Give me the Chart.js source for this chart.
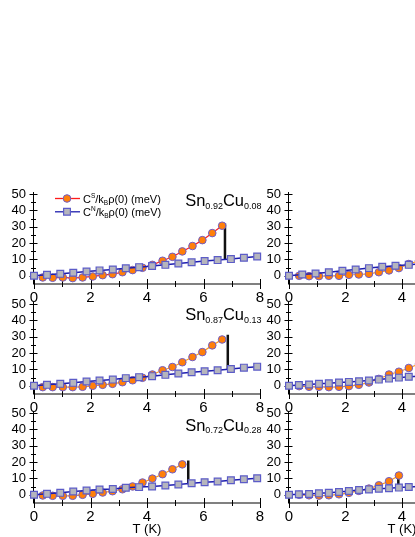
<!DOCTYPE html>
<html><head><meta charset="utf-8">
<script src="https://cdn.jsdelivr.net/npm/chart.js@4/dist/chart.umd.min.js"></script>
<style>
html,body{margin:0;padding:0;background:#fff;overflow:hidden;width:415px;height:537px;position:relative}
canvas{position:absolute}
</style></head><body>
<script>
// ---- tick labels ----
const tickX = [0, 2, 4, 6, 8];
const minorX = [1, 3, 5, 7];
const tickY = [0, 10, 20, 30, 40, 50];
const minorY = [5, 15, 25, 35, 45];

// ---- left column temperatures (K) ----
const tS_L = [0.31,0.66,1.02,1.37,1.72,2.08,2.43,2.78,3.13,3.49,3.84,4.19,4.55,4.90,5.25,5.61,5.96,6.31,6.66];
const tS_L3 = [0.31,0.66,1.02,1.37,1.72,2.08,2.43,2.78,3.13,3.49,3.84,4.19,4.55,4.90,5.25];
const tN_L = [0,0.46,0.93,1.39,1.86,2.32,2.79,3.25,3.72,4.18,4.65,5.11,5.58,6.04,6.50,6.97,7.43,7.90];

// ---- left column values (meV) ----
const cS_092 = [-1.0,-1.2,-1.0,-1.4,-1.0,-0.4,0.4,1.0,2.2,3.5,4.9,6.7,9.2,11.6,14.9,18.2,21.8,26.1,30.6];
const cN_092 = [0,0.6,1.2,1.9,2.6,3.3,3.9,4.6,5.3,6.0,6.7,7.5,8.3,9.0,9.6,10.2,11.0,11.8];
const cS_087 = [-0.8,-0.8,-0.8,-0.8,-0.6,0,0.6,1.2,2.2,3.4,4.9,6.9,9.5,11.5,14.4,17.6,20.6,24.7,28.3];
const cN_087 = [0,0.6,1.2,1.8,2.6,3.2,3.8,4.7,5.3,5.9,6.7,7.5,8.3,8.9,9.5,10.3,11.1,11.7];
const cS_072 = [-0.4,-0.6,-0.6,-0.6,0,0.6,1.4,2.2,3.4,5.1,7.5,9.9,12.6,15.6,18.6];
const cN_072 = [0,0.6,1.2,2.0,2.6,3.2,3.6,4.3,4.7,5.1,5.7,6.3,7.1,7.7,8.1,8.9,9.5,10.1];

// ---- right column ----
const tS_R = [0.36,0.71,1.06,1.41,1.77,2.12,2.47,2.83,3.18,3.54,3.89,4.24,4.60];
const tS_R3 = [0.36,0.71,1.06,1.41,1.77,2.12,2.47,2.83,3.18,3.54,3.89];
const tN_R1 = [0,0.47,0.94,1.41,1.89,2.36,2.83,3.30,3.77,4.24,4.71];
const tN_R = [0,0.35,0.71,1.06,1.41,1.77,2.12,2.48,2.83,3.18,3.54,3.89,4.24,4.60];
const cS_R1 = [0,-0.2,-0.2,0,0,0.6,0.8,1.2,2.2,3.3,4.7,7.2,9.2];
const cN_R1 = [0,0.8,1.4,2.2,3.1,3.9,4.7,5.5,6.1,6.7,7.4];
const cS_R2 = [-0.2,-0.6,-0.6,-0.8,-0.6,-0.2,0.6,2.0,4.2,6.9,8.6,10.9,13.3];
const cN_R2 = [0,0.5,0.8,1.2,1.5,2.0,2.4,2.8,3.2,3.8,4.4,5.0,5.5,5.9];
const cS_R3 = [0,-0.3,-0.5,-0.3,0.3,1.2,2.4,3.8,5.8,8.3,11.8];
const cN_R3 = [0,0.3,0.5,0.9,1.2,1.7,2.3,2.9,3.3,3.7,4.0,4.4,4.8,5.1];

// ---- jump (vertical bar) at Tc: [T, top, bottom] ----
const jump_092 = [6.76, 32.0, 10.3];
const jump_087 = [6.86, 31.2, 10.3];
const jump_072 = [5.46, 21.0, 6.5];
const jump_R3 = [3.87, 12.1, 4.2];

// ---- labels ----
const compositions = [
  [["Sn",""],["0.92","sub"],["Cu",""],["0.08","sub"]],
  [["Sn",""],["0.87","sub"],["Cu",""],["0.13","sub"]],
  [["Sn",""],["0.72","sub"],["Cu",""],["0.28","sub"]]
];
const legendS = [["C",""],["S","sup"],["/k",""],["B","sub"],["\u03C1(0) (meV)",""]];
const legendN = [["C",""],["N","sup"],["/k",""],["B","sub"],["\u03C1(0) (meV)",""]];
const xTitle = "T (K)";

const FAM = "'Liberation Sans', Arial, Helvetica, sans-serif";
Chart.defaults.font.family = FAM;
Chart.defaults.color = '#000';

const ORANGE = '#ff7f0a', CIRC_BORDER = '#6e5cc8';
const SQ_FILL = '#b5b5bd', SQ_BORDER = '#5c5cc8', BLUE_LINE = '#1e1eae';

function drawRich(ctx, x, y, segs, base, small, supDy, subDy) {
  for (const [t, k] of segs) {
    const size = k ? small : base;
    ctx.font = size + 'px ' + FAM;
    const dy = k === 'sup' ? supDy : (k === 'sub' ? subDy : 0);
    ctx.fillText(t, x, y + dy);
    x += ctx.measureText(t).width;
  }
  return x;
}
function richWidth(ctx, segs, base, small) {
  let w = 0;
  for (const [t, k] of segs) { ctx.font = (k ? small : base) + 'px ' + FAM; w += ctx.measureText(t).width; }
  return w;
}

const decorPlugin = {
  id: 'decor',
  beforeDatasetsDraw(chart) {
    const ctx = chart.ctx, a = chart.chartArea;
    const xs = chart.scales.x, ys = chart.scales.y;
    ctx.save();
    ctx.strokeStyle = '#000'; ctx.lineWidth = 1;
    ctx.beginPath();
    const ax = Math.round(a.left) - 0.5;
    ctx.moveTo(ax, a.top); ctx.lineTo(ax, a.bottom);
    tickY.forEach(v => { const p = Math.round(ys.getPixelForValue(v)) + 0.5; ctx.moveTo(ax - 4, p); ctx.lineTo(ax + 4, p); });
    minorY.forEach(v => { const p = Math.round(ys.getPixelForValue(v)) + 0.5; ctx.moveTo(ax - 2.5, p); ctx.lineTo(ax + 2.5, p); });
    const ay = a.bottom;
    tickX.forEach(v => { const p = Math.round(xs.getPixelForValue(v)) + 0.5; ctx.moveTo(p, ay - 5); ctx.lineTo(p, ay + 5); });
    minorX.forEach(v => { const p = Math.round(xs.getPixelForValue(v)) + 0.5; ctx.moveTo(p, ay - 3); ctx.lineTo(p, ay + 3); });
    ctx.stroke();
    ctx.restore();
  },
  afterDraw(chart) {
    const o = chart.options.plugins.decor || {};
    const ctx = chart.ctx, a = chart.chartArea;
    ctx.save();
    ctx.fillStyle = '#000';
    ctx.textBaseline = 'alphabetic';
    if (o.comp) {
      const w = richWidth(ctx, o.comp, 16.5, 9);
      drawRich(ctx, a.right + 1.5 - w, a.top + o.compDy, o.comp, 16.5, 9, 0, 2.5);
    }
    if (o.legend) {
      const ds = chart.data.datasets;
      const entries = [[ds[1], legendS, 6.5], [ds[0], legendN, 19.8]];
      for (const [d, segs, dy] of entries) {
        const y = a.top + dy, x0 = a.left + 21, x1 = a.left + 46, xm = a.left + 33;
        ctx.strokeStyle = d.borderColor; ctx.lineWidth = 1.3;
        ctx.beginPath(); ctx.moveTo(x0, y); ctx.lineTo(x1, y); ctx.stroke();
        ctx.fillStyle = d.pointBackgroundColor; ctx.strokeStyle = d.pointBorderColor; ctx.lineWidth = d.pointBorderWidth;
        ctx.beginPath();
        if (d.pointStyle === 'rect') { const s = d.pointRadius * Math.SQRT1_2; ctx.rect(xm - s, y - s, 2 * s, 2 * s); }
        else ctx.arc(xm, y, d.pointRadius, 0, Math.PI * 2);
        ctx.fill(); ctx.stroke();
        ctx.fillStyle = '#000';
        drawRich(ctx, a.left + 49, y + 4, segs, 11, 6.5, -4.5, 2);
      }
    }
    ctx.restore();
  }
};

function pts(t, v) { return t.map((x, i) => ({ x: x, y: v[i] })); }

function makePanel(p) {
  const cv = document.createElement('canvas');
  cv.width = 272; cv.height = p.h;
  cv.style.left = p.left + 'px'; cv.style.top = p.top + 'px';
  cv.style.width = '272px'; cv.style.height = p.h + 'px';
  document.body.appendChild(cv);
  const datasets = [
    { data: pts(p.tN, p.vN), showLine: true, borderColor: BLUE_LINE, borderWidth: 1.5,
      pointStyle: 'rect', pointRadius: 4.8, pointBackgroundColor: SQ_FILL, pointBorderColor: SQ_BORDER,
      pointBorderWidth: 1.2, order: 1, clip: false },
    { data: pts(p.tS, p.vS), showLine: true, borderColor: p.sLine, borderWidth: 1.2,
      pointStyle: 'circle', pointRadius: 3.8, pointBackgroundColor: ORANGE, pointBorderColor: CIRC_BORDER,
      pointBorderWidth: 1, order: 2, clip: false }
  ];
  if (p.jump) datasets.push({ data: [{ x: p.jump[0], y: p.jump[1] }, { x: p.jump[0], y: p.jump[2] }],
    showLine: true, borderColor: '#111', borderWidth: 2.5, pointRadius: 0, order: 3, clip: false });
  new Chart(cv, {
    type: 'scatter',
    data: { datasets },
    options: {
      responsive: false, animation: false, events: [],
      layout: { padding: { top: 16, right: 12, left: 0, bottom: 0 } },
      plugins: { legend: { display: false }, tooltip: { enabled: false },
        decor: { comp: p.comp, compDy: p.compDy, legend: p.legend } },
      scales: {
        x: { type: 'linear', min: 0, max: 8,
          afterBuildTicks: s => { s.ticks = tickX.map(v => ({ value: v })); },
          afterFit: s => { s.height = p.xh; },
          grid: { display: false, drawTicks: false, tickLength: 0 }, border: { display: true, color: '#808080', width: 2 },
          ticks: { color: '#000', font: { size: 15 }, padding: 5, maxRotation: 0, autoSkip: false },
          title: { display: !!p.xt, text: xTitle, color: '#000', font: { size: 13 }, padding: { top: 0, bottom: 0 } } },
        y: { type: 'linear', min: -5, max: 51.2,
          afterBuildTicks: s => { s.ticks = tickY.map(v => ({ value: v })); },
          afterFit: s => { s.width = 34; },
          grid: { display: false, drawTicks: false, tickLength: 0 }, border: { display: false },
          ticks: { color: '#000', font: { size: 13 }, padding: 8, autoSkip: false } }
      }
    },
    plugins: [decorPlugin]
  });
}

const panels = [
  { left: 0, top: 176, h: 134, xh: 26, tS: tS_L, vS: cS_092, tN: tN_L, vN: cN_092, sLine: '#ff1a1a', jump: jump_092, comp: compositions[0], compDy: 14, legend: true },
  { left: 0, top: 286, h: 134, xh: 26, tS: tS_L, vS: cS_087, tN: tN_L, vN: cN_087, sLine: '#ff951a', jump: jump_087, comp: compositions[1], compDy: 18 },
  { left: 0, top: 395, h: 142, xh: 34, tS: tS_L3, vS: cS_072, tN: tN_L, vN: cN_072, sLine: '#ff951a', jump: jump_072, comp: compositions[2], compDy: 19.6, xt: true },
  { left: 255, top: 176, h: 134, xh: 26, tS: tS_R, vS: cS_R1, tN: tN_R1, vN: cN_R1, sLine: '#ff951a' },
  { left: 255, top: 286, h: 134, xh: 26, tS: tS_R, vS: cS_R2, tN: tN_R, vN: cN_R2, sLine: '#ff951a' },
  { left: 255, top: 395, h: 142, xh: 34, tS: tS_R3, vS: cS_R3, tN: tN_R, vN: cN_R3, sLine: '#ff951a', jump: jump_R3, xt: true }
];
panels.forEach(makePanel);
</script>
</body></html>
